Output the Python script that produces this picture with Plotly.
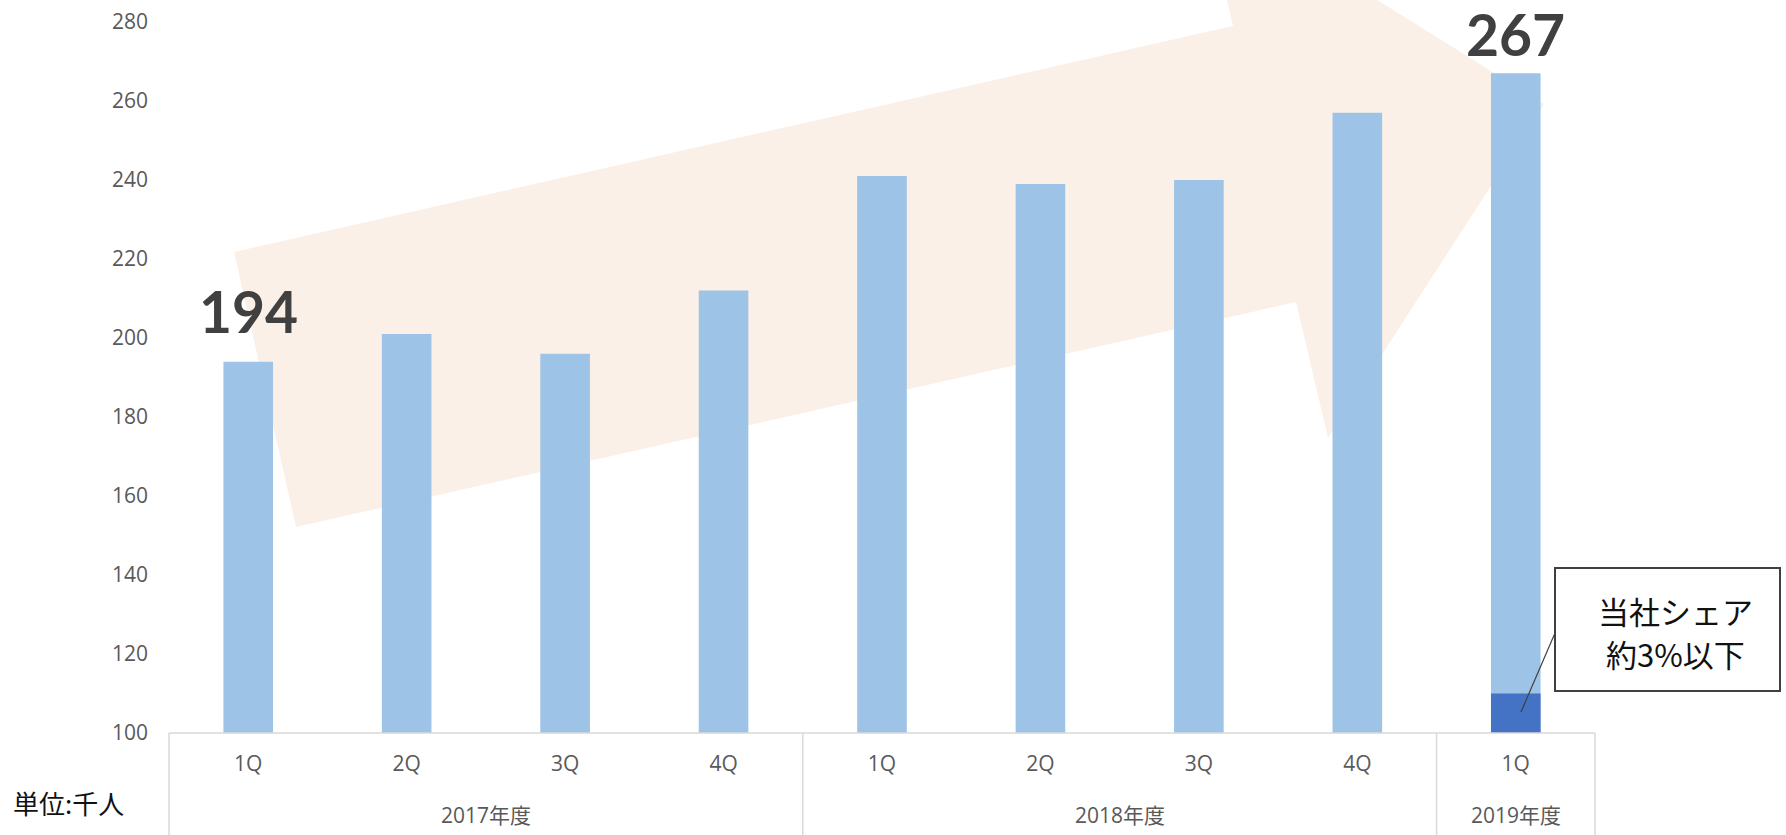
import plotly.graph_objects as go

# ---- data ----
years = ["2017年度", "2017年度", "2017年度", "2017年度",
         "2018年度", "2018年度", "2018年度", "2018年度", "2019年度"]
quarters = ["1Q", "2Q", "3Q", "4Q", "1Q", "2Q", "3Q", "4Q", "1Q"]
totals = [194, 201, 196, 212, 241, 239, 240, 257, 267]
share = [None, None, None, None, None, None, None, None, 110]
y_ticks = [100, 120, 140, 160, 180, 200, 220, 240, 260, 280]
callout_lines = ["当社シェア", "約3%以下"]
unit_label = "単位:千人"

n = len(quarters)
xs = list(range(n))

W, H = 1786, 835
ML, MR, MT, MB = 169, 191, 0, 102
plot_h = H - MT - MB
plot_w = W - ML - MR
y_top = 100 + 180 * plot_h / (plot_h - 22)

TICK_FONT = dict(family="Open Sans, Noto Sans CJK JP", size=21, color="#595959")

fig = go.Figure()
fig.add_trace(go.Bar(x=xs, y=totals, marker=dict(color="#9DC3E6", line=dict(width=0)),
                     hoverinfo="skip", showlegend=False))
fig.add_trace(go.Bar(x=xs, y=share, marker=dict(color="#4472C4", line=dict(width=0)),
                     hoverinfo="skip", showlegend=False))

def px2x(px):
    return (px - ML) / (plot_w / n) - 0.5

def px2y(py):
    return 100 + (plot_h - py) * (y_top - 100) / plot_h

# decorative big arrow (pixel-derived outline)
arrow_px = [(234, 252), (1233, 26), (1201, -110), (1544, 104),
            (1328, 438), (1296, 302), (296, 527)]
path = "M " + " L ".join(f"{px2x(a):.4f},{px2y(b):.4f}" for a, b in arrow_px) + " Z"
shapes = [dict(type="path", path=path, xref="x", yref="y", layer="below",
               fillcolor="#FBF0E7", line=dict(width=0))]

# category axis frame
bounds = [-0.5]
for i in range(1, n):
    if years[i] != years[i - 1]:
        bounds.append(i - 0.5)
bounds.append(n - 0.5)
shapes.append(dict(type="line", xref="paper", yref="paper", x0=0, x1=1, y0=0, y1=0,
                   line=dict(color="#D9D9D9", width=1.5)))
for b in bounds:
    xp = (b + 0.5) / n
    shapes.append(dict(type="line", xref="paper", yref="paper", x0=xp, x1=xp, y0=0,
                       y1=-(MB + 5) / plot_h, line=dict(color="#D9D9D9", width=1.5)))

# callout box + leader
def pxp(px):
    return (px - ML) / plot_w

def pyp(py):
    return (plot_h - py) / plot_h

shapes.append(dict(type="rect", xref="paper", yref="paper", x0=pxp(1555), x1=pxp(1780),
                   y0=pyp(691), y1=pyp(568), fillcolor="white",
                   line=dict(color="#404040", width=2)))
shapes.append(dict(type="line", xref="paper", yref="paper", x0=pxp(1555), y0=pyp(633),
                   x1=pxp(1521), y1=pyp(712), line=dict(color="#404040", width=1.2)))

annotations = []
# year group labels
groups = []
for y in years:
    if y not in groups:
        groups.append(y)
for g in groups:
    idx = [i for i, y in enumerate(years) if y == g]
    c = sum(idx) / len(idx)
    annotations.append(dict(x=(c + 0.5) / n, y=pyp(815), xref="paper", yref="paper",
                            text=g, showarrow=False, font=TICK_FONT,
                            xanchor="center", yanchor="middle"))

# big value labels on first and last bars
for i, shift in ((0, 16), (n - 1, 4)):
    annotations.append(dict(x=xs[i], y=totals[i], xref="x", yref="y", text=str(totals[i]),
                            showarrow=False, yanchor="bottom", yshift=shift, borderpad=0,
                            font=dict(family="Lato", size=57, color="#404040",
                                      weight="bold")))

for txt, py in zip(callout_lines, (610, 653)):
    annotations.append(dict(x=pxp(1676), y=pyp(py), xref="paper", yref="paper", text=txt,
                            showarrow=False, xanchor="center", yanchor="middle",
                            font=dict(family="Noto Sans CJK JP", size=31, color="#111111")))

annotations.append(dict(x=pxp(11), y=pyp(803), xref="paper", yref="paper", text=unit_label,
                        showarrow=False, xanchor="left", yanchor="middle",
                        font=dict(family="Noto Sans CJK JP, Open Sans", size=26,
                                  color="#111111")))

fig.update_layout(
    width=W, height=H, autosize=False,
    margin=dict(l=ML, r=MR, t=MT, b=MB, pad=0),
    paper_bgcolor="white", plot_bgcolor="white",
    barmode="overlay", bargap=0.687,
    shapes=shapes, annotations=annotations,
    xaxis=dict(range=[-0.5, n - 0.5], tickmode="array", tickvals=xs, ticktext=quarters,
               showgrid=False, zeroline=False, showline=False, ticks="",
               tickfont=TICK_FONT, ticklabelstandoff=16, fixedrange=True),
    yaxis=dict(range=[100, y_top], tickmode="array", tickvals=y_ticks,
               showgrid=False, zeroline=False, showline=False, ticks="",
               tickfont=TICK_FONT, ticklabelstandoff=20, fixedrange=True),
)

fig.write_html("out.html", config={"displayModeBar": False})
